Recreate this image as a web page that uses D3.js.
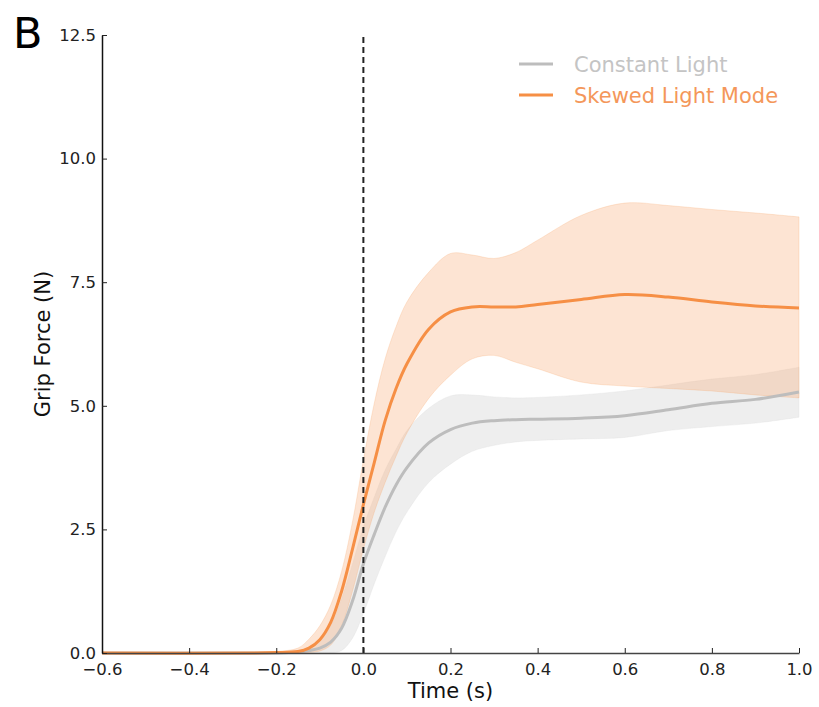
<!DOCTYPE html>
<html>
<head>
<meta charset="utf-8">
<script src="https://cdn.jsdelivr.net/npm/d3@7"></script>
<style>
  body { margin: 0; background: #fff; }
  svg { font-family: "DejaVu Sans", sans-serif; }
</style>
</head>
<body>
<div id="chart"></div>
<script>
const width = 819;
const height = 707;
const margin = { top: 35, right: 20, bottom: 54, left: 102 };

// time axis (s)
const time = [-0.6, -0.25, -0.2, -0.15, -0.125, -0.1, -0.075, -0.05, -0.025, 0, 0.025, 0.05, 0.075, 0.1,
  0.15, 0.2, 0.25, 0.3, 0.35, 0.4, 0.5, 0.6, 0.7, 0.8, 0.9, 1.0];

// Skewed Light Mode: mean and band
const skewMean = [0, 0, 0.01, 0.03, 0.1, 0.27, 0.62, 1.25, 2.1, 3.0, 3.85, 4.7, 5.35, 5.85,
  6.55, 6.9, 7.0, 7.0, 7.0, 7.05, 7.15, 7.25, 7.2, 7.1, 7.02, 6.98];
const skewUpper = [0, 0, 0.03, 0.1, 0.28, 0.55, 0.97, 1.65, 2.65, 3.9, 5.05, 5.95, 6.6, 7.1,
  7.7, 8.08, 8.05, 7.98, 8.1, 8.35, 8.85, 9.1, 9.05, 8.97, 8.9, 8.82];
const skewLower = [0, 0, 0, 0, 0.01, 0.04, 0.16, 0.55, 1.25, 2.1, 2.85, 3.45, 3.98, 4.45,
  5.15, 5.62, 5.95, 6.02, 5.88, 5.75, 5.48, 5.4, 5.35, 5.3, 5.22, 5.16];

// Constant Light: mean and band
const constMean = [0, 0, 0, 0.02, 0.05, 0.1, 0.22, 0.5, 1.05, 1.8, 2.4, 2.95, 3.4, 3.75,
  4.25, 4.52, 4.65, 4.7, 4.72, 4.73, 4.75, 4.8, 4.92, 5.05, 5.13, 5.28];
const constUpper = [0, 0, 0, 0.04, 0.12, 0.25, 0.55, 1.1, 1.8, 2.55, 3.15, 3.7, 4.12, 4.5,
  4.95, 5.2, 5.22, 5.18, 5.16, 5.17, 5.22, 5.3, 5.42, 5.54, 5.63, 5.78];
const constLower = [0, 0, 0, 0, 0, 0, 0, 0.05, 0.3, 0.8, 1.4, 1.95, 2.45, 2.85,
  3.45, 3.82, 4.08, 4.2, 4.27, 4.3, 4.33, 4.36, 4.5, 4.58, 4.65, 4.77];

const xTicks = [-0.6, -0.4, -0.2, 0.0, 0.2, 0.4, 0.6, 0.8, 1.0];
const yTicks = [0, 2.5, 5.0, 7.5, 10.0, 12.5];

const series = [
  { name: "Constant Light", mean: constMean, upper: constUpper, lower: constLower,
    line: "#bdbdbd", fill: "#d9d9d9", fillOpacity: 0.45, text: "#c4c4c4" },
  { name: "Skewed Light Mode", mean: skewMean, upper: skewUpper, lower: skewLower,
    line: "#f68f45", fill: "#f9a66c", fillOpacity: 0.3, text: "#f4975a" }
];

const svg = d3.select("#chart")
    .append("svg")
    .attr("width", width)
    .attr("height", height);

const x = d3.scaleLinear().domain([-0.6, 1.0]).range([margin.left, width - margin.right]);
const y = d3.scaleLinear().domain([0, 12.5]).range([height - margin.bottom, margin.top]);

const curve = d3.curveCatmullRom.alpha(0.5);

const area = d3.area()
    .x((d, i) => x(time[i]))
    .y0(d => y(Math.max(0, d[0])))
    .y1(d => y(d[1]))
    .curve(curve);

const line = d3.line()
    .x((d, i) => x(time[i]))
    .y(d => y(d))
    .curve(curve);

// bands
series.forEach(s => {
    svg.append("path")
        .datum(s.lower.map((v, i) => [v, s.upper[i]]))
        .attr("d", area)
        .attr("fill", s.fill)
        .attr("fill-opacity", s.fillOpacity)
        .attr("stroke", s.fill)
        .attr("stroke-opacity", 0.25);
});

// mean lines
series.forEach(s => {
    svg.append("path")
        .datum(s.mean)
        .attr("d", line)
        .attr("fill", "none")
        .attr("stroke", s.line)
        .attr("stroke-width", 3);
});

// onset marker
svg.append("line")
    .attr("x1", x(0)).attr("x2", x(0))
    .attr("y1", y(0)).attr("y2", y(12.5))
    .attr("stroke", "#222")
    .attr("stroke-width", 2)
    .attr("stroke-dasharray", "6,4");

// axes
const xAxis = svg.append("g")
    .attr("transform", `translate(0,${y(0)})`)
    .call(d3.axisBottom(x).tickValues(xTicks).tickSizeInner(-5).tickSizeOuter(0)
        .tickPadding(10).tickFormat(d => d3.format(".1f")(d).replace("-", "\u2212")));
xAxis.select(".domain").attr("stroke", "#444").attr("stroke-width", 1.5);
xAxis.selectAll(".tick line").attr("stroke", "#222");
xAxis.selectAll("text").attr("font-size", 16.5).attr("fill", "#222").attr("font-family", "DejaVu Sans");

const yAxis = svg.append("g")
    .attr("transform", `translate(${x(-0.6)},0)`)
    .call(d3.axisLeft(y).tickValues(yTicks).tickSizeInner(-5).tickSizeOuter(0)
        .tickPadding(6).tickFormat(d3.format(".1f")));
yAxis.select(".domain").attr("stroke", "#111").attr("stroke-width", 1.5);
yAxis.selectAll(".tick line").attr("stroke", "#222");
yAxis.selectAll("text").attr("font-size", 16.5).attr("fill", "#222").attr("font-family", "DejaVu Sans");

// axis labels
svg.append("text")
    .attr("x", (x(-0.6) + x(1.0)) / 2)
    .attr("y", 698)
    .attr("text-anchor", "middle")
    .attr("font-size", 21)
    .attr("fill", "#111")
    .text("Time (s)");

svg.append("text")
    .attr("transform", `translate(50,${(y(0) + y(12.5)) / 2}) rotate(-90)`)
    .attr("text-anchor", "middle")
    .attr("font-size", 21)
    .attr("fill", "#111")
    .text("Grip Force (N)");

// panel letter
svg.append("text")
    .attr("x", 13)
    .attr("y", 48)
    .attr("font-size", 43)
    .attr("fill", "#000")
    .text("B");

// legend
const legend = svg.append("g").attr("transform", "translate(519,64)");
const item = legend.selectAll(".legend-item")
    .data(series)
    .enter().append("g")
    .attr("class", "legend-item")
    .attr("transform", (d, i) => `translate(0,${i * 31})`);
item.append("line")
    .attr("x1", 0).attr("x2", 34)
    .attr("stroke", d => d.line)
    .attr("stroke-width", 3);
item.append("text")
    .attr("x", 55)
    .attr("y", 7.5)
    .attr("font-size", 21)
    .attr("fill", d => d.text)
    .text(d => d.name);
</script>
</body>
</html>
